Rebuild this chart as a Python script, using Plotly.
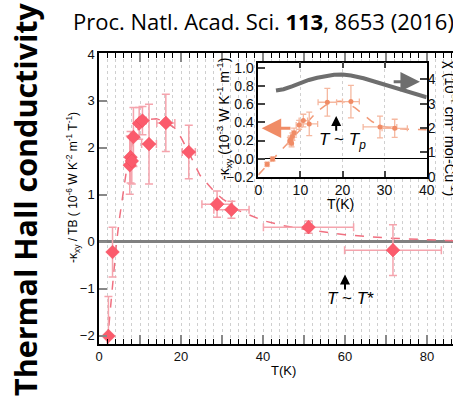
import plotly.graph_objects as go

# ---------------- data ----------------
# main panel: -kappa_xy / TB vs T
main_T = [2.3, 3.3, 7.5, 7.7, 8.0, 8.4, 9.8, 10.6, 12.2, 16.3, 21.9, 28.8, 32.3, 51.1, 71.7]
main_val = [-2.01, -0.22, 1.63, 1.80, 1.72, 2.23, 2.52, 2.58, 2.08, 2.53, 1.91, 0.80, 0.68, 0.31, -0.18]
main_err = [0.84, 0.53, 0.62, 0.55, 0.49, 0.63, 0.34, 0.30, 0.85, 0.61, 0.57, 0.28, 0.18, 0.13, 0.54]
main_Terr = [0.3, 0.3, 0.4, 0.4, 0.4, 0.5, 0.8, 0.9, 1.8, 2.2, 1.6, 3.7, 4.3, 11.0, 11.8]

main_fit_T = [2.0, 3.0, 4.0, 4.3, 5.0, 6.0, 7.0, 8.0, 9.0, 10.0, 12.0, 14.0, 16.0, 18.5, 20.0, 22.0,
              24.6, 28.0, 30.0, 34.4, 40.0, 45.0, 51.0, 60.0, 70.0, 83.0, 87.0]
main_fit_val = [-2.17, -1.2, -0.3, 0.0, 0.5, 1.15, 1.7, 2.05, 2.3, 2.45, 2.6, 2.62, 2.56, 2.42, 2.22, 1.88,
                1.42, 1.08, 0.92, 0.65, 0.45, 0.34, 0.25, 0.15, 0.08, 0.03, 0.02]

# inset: -kappa_xy vs T
ins_T = [2.1, 3.4, 7.5, 7.7, 7.9, 8.1, 8.5, 9.7, 10.7, 12.1, 16.4, 22.0, 28.9, 32.4]
ins_val = [-0.063, -0.004, 0.195, 0.21, 0.17, 0.243, 0.287, 0.372, 0.42, 0.383, 0.623, 0.63, 0.35, 0.335]
ins_err = [0.02, 0.02, 0.04, 0.04, 0.04, 0.04, 0.05, 0.05, 0.07, 0.13, 0.153, 0.18, 0.12, 0.10]
ins_Terr = [0.3, 0.3, 0.4, 0.4, 0.4, 0.4, 0.5, 0.7, 1.0, 2.0, 2.2, 2.0, 4.0, 3.0]

ins_fit_T = [0, 2, 4, 6, 8, 10, 12, 14, 16, 18, 19.5, 21, 23, 25, 27, 29, 32, 36, 40]
ins_fit_val = [-0.18, -0.08, 0.02, 0.12, 0.22, 0.32, 0.42, 0.52, 0.59, 0.63, 0.635, 0.62, 0.56,
               0.48, 0.41, 0.36, 0.335, 0.325, 0.32]

# inset: susceptibility chi (right axis)
chi_T = [4.2, 6, 8, 10, 12, 14, 16, 18, 20, 22, 25, 28, 31, 34, 37, 40]
chi_val = [3.55, 3.6, 3.72, 3.86, 3.98, 4.07, 4.14, 4.19, 4.2, 4.16, 4.05, 3.9, 3.73, 3.57, 3.43, 3.27]

main_xticks = [0, 10, 20, 30, 40, 50, 60, 70, 80]
main_xticktext = ["0", "", "20", "", "40", "", "60", "", "80"]

# ---------------- layout helpers ----------------
W, H = 453, 409
def px(x):
    return x / W
def py(y):
    return 1 - y / H

MAIN_RED = "#fb5b6c"
MAIN_ERR = "#f5a4ad"
MAIN_FIT = "#f07080"
INS_OR = "#f08c66"
INS_ERR = "#f5b8a0"
INS_FIT = "#f29a78"
CHI_GRAY = "#6e6e6e"
TICKFONT = dict(family="Liberation Sans, Arial", size=13, color="#111")
INSFONT = dict(family="Liberation Sans, Arial", size=14, color="#111")

fig = go.Figure()

# main
fig.add_trace(go.Scatter(x=main_fit_T, y=main_fit_val, mode="lines",
                         line=dict(color=MAIN_FIT, dash="dash", width=1.5),
                         xaxis="x", yaxis="y", showlegend=False, hoverinfo="skip"))
fig.add_trace(go.Scatter(x=main_T, y=main_val, mode="markers",
                         marker=dict(symbol="diamond", size=10.5, color=MAIN_RED,
                                     line=dict(color="#f04858", width=0.5)),
                         error_y=dict(type="data", array=main_err, color=MAIN_ERR, thickness=1.5, width=4),
                         error_x=dict(type="data", array=main_Terr, color=MAIN_ERR, thickness=1.5, width=4),
                         xaxis="x", yaxis="y", showlegend=False))

# inset
fig.add_trace(go.Scatter(x=chi_T, y=chi_val, mode="lines",
                         line=dict(color=CHI_GRAY, width=4),
                         xaxis="x2", yaxis="y3", showlegend=False))
fig.add_trace(go.Scatter(x=ins_fit_T, y=ins_fit_val, mode="lines",
                         line=dict(color=INS_FIT, dash="dash", width=1.5),
                         xaxis="x2", yaxis="y2", showlegend=False))
fig.add_trace(go.Scatter(x=ins_T, y=ins_val, mode="markers",
                         marker=dict(symbol="circle", size=5, color=INS_OR),
                         error_y=dict(type="data", array=ins_err, color=INS_ERR, thickness=1.3, width=3),
                         error_x=dict(type="data", array=ins_Terr, color=INS_ERR, thickness=1.3, width=3),
                         xaxis="x2", yaxis="y2", showlegend=False))

fig.update_layout(
    width=W, height=H,
    margin=dict(l=0, r=0, t=0, b=0),
    paper_bgcolor="white", plot_bgcolor="white",
    xaxis=dict(domain=[px(99), 1.0], range=[0, (W - 99) / 4.1], anchor="y",
               tickmode="array", tickvals=main_xticks, ticktext=main_xticktext,
               ticks="inside", ticklen=9, tickwidth=2, tickcolor="#888",
               showline=True, linecolor="black", linewidth=1.5, mirror="allticks",
               showgrid=True, gridcolor="#cfcfcf", griddash="dot", gridwidth=1,
               minor=dict(dtick=2, ticks="inside", ticklen=5, tickcolor="black", tickwidth=1,
                          showgrid=True, gridcolor="#cfcfcf", griddash="dot", gridwidth=1),
               zeroline=False, tickfont=TICKFONT, automargin=False),
    yaxis=dict(domain=[py(344), py(53)], range=[-2.18, 4.02], anchor="x",
               tickmode="linear", tick0=0, dtick=1,
               ticks="inside", ticklen=8, tickwidth=2, tickcolor="#888",
               showline=True, linecolor="black", linewidth=1.5,
               showgrid=False, zeroline=True, zerolinecolor="#808080", zerolinewidth=2.5,
               tickfont=TICKFONT, automargin=False),
    xaxis2=dict(domain=[px(258.3), px(426.7)], range=[0, 40], anchor="y2",
                tickmode="linear", tick0=0, dtick=10,
                ticks="inside", ticklen=6, tickwidth=1.5, tickcolor="#444",
                showline=True, linecolor="black", linewidth=1.5, mirror="ticks",
                showgrid=True, gridcolor="#d0d0d0", griddash="dot",
                zeroline=False, tickfont=INSFONT, automargin=False),
    yaxis2=dict(domain=[py(176.7), py(62.7)], range=[-0.2, 1.06], anchor="x2",
                tickmode="linear", tick0=0, dtick=0.2, tickformat=".1f",
                ticks="inside", ticklen=7, tickwidth=1.5, tickcolor="#444",
                showline=True, linecolor="black", linewidth=1.5, mirror=True,
                showgrid=False, zeroline=True, zerolinecolor="black", zerolinewidth=1,
                tickfont=INSFONT, automargin=False),
    yaxis3=dict(range=[0, 4.69], overlaying="y2", side="right", anchor="x2",
                tickmode="linear", tick0=0, dtick=1,
                ticks="inside", ticklen=7, tickwidth=1.5, tickcolor="#444",
                showline=False, showgrid=False, zeroline=False,
                tickfont=INSFONT, automargin=False),
)

# inset white background
fig.add_shape(type="rect", xref="x2 domain", yref="y2 domain", x0=0, x1=1, y0=0, y1=1,
              fillcolor="white", line=dict(width=0), layer="below")

def txt(text, x, y, size, angle=0, family="Liberation Sans, Arial", xanchor="center"):
    return dict(text=text, xref="paper", yref="paper", x=px(x), y=py(y), textangle=angle,
                showarrow=False, xanchor=xanchor, yanchor="middle",
                font=dict(family=family, size=size, color="black"))

ann = []
ann.append(txt("<b>Thermal Hall conductivity</b>", 25, 199, 30.5, angle=-90, family="Open Sans"))
ann.append(txt("Proc. Natl. Acad. Sci. <b>113</b>, 8653 (2016)", 71, 21, 22, family="Open Sans",
               xanchor="left"))
ann.append(txt("-κ<sub>xy</sub> / TB ( 10<sup>-6</sup> W K<sup>-2</sup> m<sup>-1</sup> T<sup>-1</sup>)",
               73, 188, 12, angle=-90))
ann.append(txt("T(K)", 283, 370, 13))
ann.append(txt("T(K)", 340, 204, 14))
ann.append(txt("-κ<sub>xy</sub> (10<sup>-3</sup> W K<sup>-1</sup> m<sup>-1</sup>)", 224, 119, 14, angle=-90))
ann.append(txt("χ (10<sup>-4</sup> cm<sup>3</sup> mol-Cu<sup>-1</sup>)", 451, 128, 14.5, angle=90))

# arrows in inset
ann.append(dict(x=0.8, y=0.336, xref="x2", yref="y2", ax=8.0, ay=0.336, axref="x2", ayref="y2",
                showarrow=True, arrowhead=2, arrowsize=1.3, arrowwidth=3, arrowcolor=INS_OR, text=""))
ann.append(dict(x=38.4, y=3.91, xref="x2", yref="y3", ax=31.8, ay=3.91, axref="x2", ayref="y3",
                showarrow=True, arrowhead=2, arrowsize=1.3, arrowwidth=3, arrowcolor=CHI_GRAY, text=""))
ann.append(dict(x=18.5, y=0.47, xref="x2", yref="y2", ax=18.5, ay=0.29, axref="x2", ayref="y2",
                showarrow=True, arrowhead=2, arrowsize=1, arrowwidth=2, arrowcolor="black", text=""))
ann.append(dict(text="<i>T</i> ~ <i>T<sub>p</sub></i>", x=20.0, y=0.2, xref="x2", yref="y2",
                xanchor="center", yanchor="middle",
                showarrow=False, font=dict(family="Liberation Sans, Arial", size=17, color="black")))
# T* arrow in main
ann.append(dict(x=60, y=-0.70, xref="x", yref="y", ax=60, ay=-1.05, axref="x", ayref="y",
                showarrow=True, arrowhead=2, arrowsize=1, arrowwidth=2, arrowcolor="black", text=""))
ann.append(dict(text="<i>T</i> ~ <i>T</i>*", x=61.3, y=-1.22, xref="x", yref="y",
                xanchor="center", yanchor="middle",
                showarrow=False, font=dict(family="Liberation Sans, Arial", size=17, color="black")))

fig.update_layout(annotations=ann)

fig.write_html("out.html")
